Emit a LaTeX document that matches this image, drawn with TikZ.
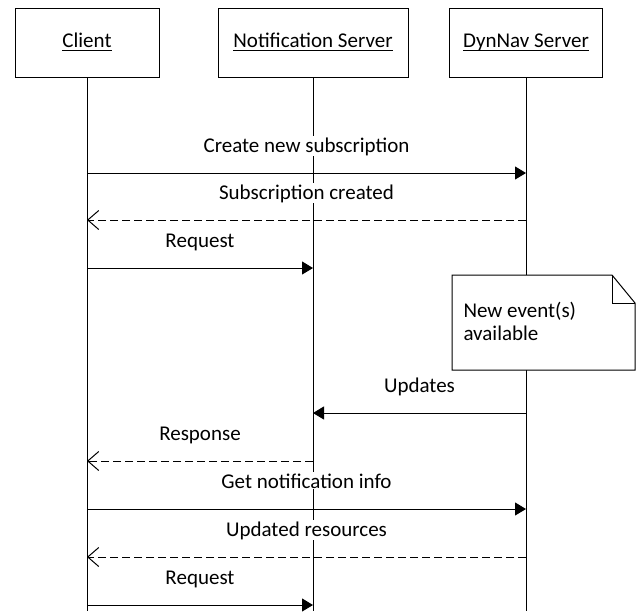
\documentclass[tikz,border=0pt]{standalone}
\usepackage{amsmath}
\usepackage{fontspec}
\setmainfont{Carlito}
\usepackage{tikz}
\usetikzlibrary{arrows.meta}

\newcommand{\objname}[1]{\underline{\smash[b]{#1}}}

\begin{document}
\begin{tikzpicture}[x=1pt, y=-1pt, line width=1pt,
    every node/.style={font=\fontsize{21}{23}\selectfont},
    lifebox/.style={draw, fill=white, minimum height=69pt, inner sep=0pt},
    call/.style={-{Triangle[length=11pt,width=13pt]}},
    reply/.style={dash pattern=on 8pt off 4pt, -{Straight Barb[length=11pt,width=19pt]}},
    msglabel/.style={fill=white, inner sep=1pt, anchor=base, yshift=21pt}]

    \useasboundingbox (0,0) rectangle (637,611);

    % Objects
    \node[lifebox, minimum width=144pt] (client) at (87,42.5) {\objname{Client}};
    \node[lifebox, minimum width=190pt] (notif) at (313,42.5) {\objname{Notification Server}};
    \node[lifebox, minimum width=153pt] (dynnav) at (526,42.5) {\objname{DynNav Server}};

    % Lifelines
    \draw (client.south) -- (client.south |- 0,611);
    \draw (notif.south) -- (notif.south |- 0,611);
    \draw (dynnav.south) -- (dynnav.south |- 0,611);

    % Subscription
    \draw[call] (client |- 0,173) -- node[msglabel] {Create new subscription} (dynnav |- 0,173);
    \draw[reply] (dynnav |- 0,220) -- node[msglabel] {Subscription created} (client |- 0,220);
    \draw[call] (client |- 0,268) -- node[msglabel] {Request} (notif |- 0,268);

    % Note
    \filldraw[fill=white] (452,275) -- (612,275) -- (635,303) -- (635,370) -- (452,370) -- cycle;
    \draw (612,275) -- (612,303) -- (635,303);
    \node[anchor=base west, align=left, inner sep=0pt] (note) at (463,340) {New event(s)\\available};

    % Notification
    \draw[call] (dynnav |- 0,413) -- node[msglabel] {Updates} (notif |- 0,413);
    \draw[reply] (notif |- 0,461) -- node[msglabel] {Response} (client |- 0,461);
    \draw[call] (client |- 0,509) -- node[msglabel] {Get notification info} (dynnav |- 0,509);
    \draw[reply] (dynnav |- 0,557) -- node[msglabel] {Updated resources} (client |- 0,557);
    \draw[call] (client |- 0,605) -- node[msglabel] {Request} (notif |- 0,605);

\end{tikzpicture}
\end{document}
